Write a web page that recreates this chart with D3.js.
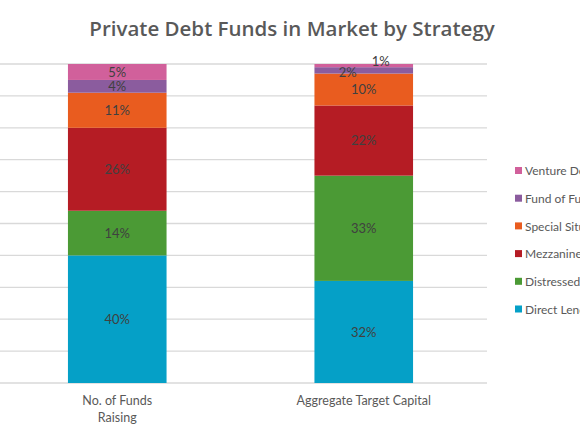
<!DOCTYPE html>
<html>
<head>
<meta charset="utf-8">
<script src="https://cdn.jsdelivr.net/npm/d3@7"></script>
<style>
  body { margin: 0; background: #fff; overflow: hidden; }
  text { font-family: Lato, "Open Sans", sans-serif; }
</style>
</head>
<body>
<div id="chart"></div>
<script>
// categories and stacked series (percent of total)
const categories = ["No. of Funds Raising", "Aggregate Target Capital"];
const strategies = ["Direct Lending", "Distressed", "Mezzanine", "Special Situations", "Fund of Funds", "Venture Debt"];
const fundsRaising = [40, 14, 26, 11, 4, 5];
const targetCapital = [32, 33, 22, 10, 2, 1];
const yTicks = [0, 10, 20, 30, 40, 50, 60, 70, 80, 90, 100];
const palette = ["#05a0c7", "#4b9a35", "#b51c24", "#e95c1f", "#8b5c9e", "#d1609b"];

const width = 580, height = 435;
const margin = {top: 64, right: 93, bottom: 52, left: -6};

const svg = d3.select("#chart")
  .append("svg")
    .attr("width", width)
    .attr("height", height);

const rows = categories.map((c, i) => {
  const vals = i === 0 ? fundsRaising : targetCapital;
  const row = {cat: c};
  strategies.forEach((s, j) => row[s] = vals[j]);
  return row;
});

const stacked = d3.stack().keys(strategies)(rows);

const x = d3.scaleBand()
  .domain(categories)
  .range([margin.left, width - margin.right])
  .paddingInner(0.6)
  .paddingOuter(0.3);

const y = d3.scaleLinear()
  .domain([0, 100])
  .range([height - margin.bottom, margin.top]);

const color = d3.scaleOrdinal().domain(strategies).range(palette);

// title
svg.append("text")
  .attr("x", 292)
  .attr("y", 36)
  .attr("text-anchor", "middle")
  .style("font-family", "'Open Sans', sans-serif")
  .style("font-size", "20.5px")
  .style("font-weight", 600)
  .style("fill", "#595959")
  .text("Private Debt Funds in Market by Strategy");

// gridlines
svg.append("g")
  .selectAll("line")
  .data(yTicks)
  .join("line")
    .attr("x1", 0)
    .attr("x2", width - margin.right)
    .attr("y1", d => y(d))
    .attr("y2", d => y(d))
    .attr("stroke", "#d9d9d9")
    .attr("stroke-width", 1.3);

// bars
const layers = svg.append("g")
  .selectAll("g")
  .data(stacked)
  .join("g")
    .attr("fill", d => color(d.key));

layers.selectAll("rect")
  .data(d => d.map(p => ({key: d.key, cat: p.data.cat, y0: p[0], y1: p[1]})))
  .join("rect")
    .attr("x", d => x(d.cat))
    .attr("width", x.bandwidth())
    .attr("y", d => y(d.y1))
    .attr("height", d => y(d.y0) - y(d.y1));

// data labels, tiny slices get nudged aside like the original
const nudge = d => {
  const v = d.y1 - d.y0;
  if (v > 2) return [0, 0];
  return d.key === "Venture Debt" ? [17, -4] : [-16, 2];
};

layers.selectAll("text")
  .data(d => d.map(p => ({key: d.key, cat: p.data.cat, y0: p[0], y1: p[1]})))
  .join("text")
    .attr("x", d => x(d.cat) + x.bandwidth() / 2 + nudge(d)[0])
    .attr("y", d => y((d.y0 + d.y1) / 2) + nudge(d)[1])
    .attr("dy", "0.35em")
    .attr("text-anchor", "middle")
    .style("font-size", "13px")
    .style("fill", "#404040")
    .text(d => (d.y1 - d.y0) + "%");

// category labels
const catLines = {"No. of Funds Raising": ["No. of Funds", "Raising"]};
svg.append("g")
  .selectAll("text")
  .data(categories)
  .join("text")
    .attr("x", d => x(d) + x.bandwidth() / 2)
    .attr("y", 405)
    .attr("text-anchor", "middle")
    .style("font-size", "12.5px")
    .style("fill", "#595959")
    .each(function (d) {
      const lines = catLines[d] || [d];
      d3.select(this).selectAll("tspan")
        .data(lines)
        .join("tspan")
          .attr("x", x(d) + x.bandwidth() / 2)
          .attr("dy", (l, i) => i === 0 ? 0 : 17)
          .text(l => l);
    });

// legend (top entry is last series)
const legend = svg.append("g")
  .selectAll("g")
  .data(strategies.slice().reverse())
  .join("g")
    .attr("transform", (d, i) => `translate(515, ${171 + i * 27.7})`);

legend.append("rect")
  .attr("x", 0)
  .attr("y", -4)
  .attr("width", 7)
  .attr("height", 7)
  .attr("fill", d => color(d));

legend.append("text")
  .attr("x", 10)
  .attr("y", 0)
  .attr("dy", "0.35em")
  .style("font-size", "12px")
  .style("fill", "#595959")
  .text(d => d);
</script>
</body>
</html>
